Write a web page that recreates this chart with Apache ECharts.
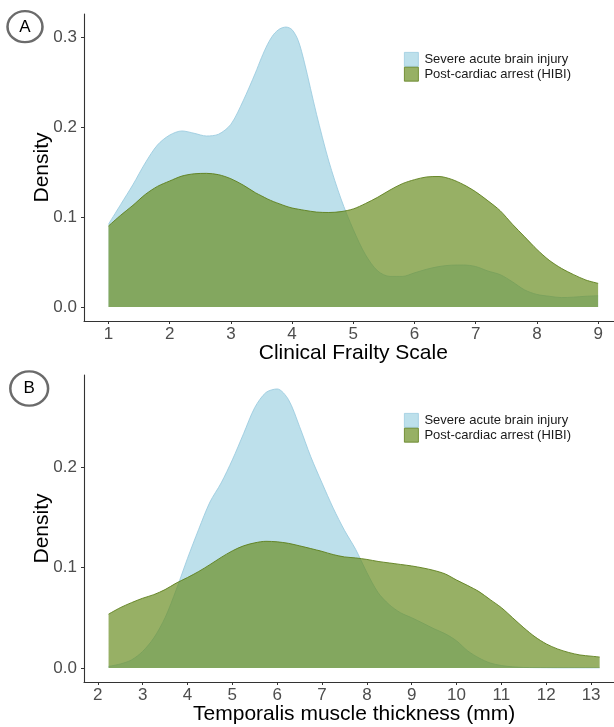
<!DOCTYPE html>
<html>
<head>
<meta charset="utf-8">
<script src="https://cdn.jsdelivr.net/npm/echarts@6/dist/echarts.min.js"></script>
<style>
html,body{margin:0;padding:0;background:#fff;}
#chart{width:614px;height:727px;}
</style>
</head>
<body>
<div id="chart"></div>
<script>
// ---------- Data ----------
var seriesNames = ['Severe acute brain injury', 'Post-cardiac arrest (HIBI)'];

// Panel A: Clinical Frailty Scale
var cfsX = [1.0,1.2,1.4,1.6,1.8,2.0,2.2,2.4,2.6,2.8,3.0,3.2,3.4,3.5,3.6,3.7,3.8,3.9,4.0,4.1,4.2,4.4,4.6,4.8,5.0,5.2,5.4,5.6,5.8,6.0,6.2,6.4,6.6,6.8,7.0,7.2,7.4,7.6,7.8,8.0,8.2,8.4,8.6,8.8,9.0];
var cfsSevere = [0.092,0.114,0.136,0.160,0.180,0.191,0.1956,0.193,0.190,0.192,0.203,0.229,0.260,0.277,0.292,0.303,0.309,0.311,0.308,0.296,0.272,0.214,0.162,0.120,0.086,0.058,0.040,0.034,0.034,0.038,0.042,0.045,0.0465,0.0467,0.045,0.040,0.036,0.028,0.019,0.014,0.012,0.0105,0.011,0.012,0.0126];
var cfsHibi = [0.090,0.102,0.113,0.125,0.134,0.140,0.1455,0.148,0.1485,0.147,0.1425,0.1355,0.127,0.1235,0.120,0.117,0.1145,0.112,0.110,0.1087,0.1075,0.1055,0.105,0.106,0.109,0.115,0.122,0.130,0.137,0.1415,0.1445,0.145,0.142,0.136,0.128,0.118,0.107,0.092,0.078,0.064,0.052,0.043,0.036,0.030,0.0263];
var cfsTicks = [1,2,3,4,5,6,7,8,9];
var densTicksA = [0, 0.1, 0.2, 0.3];

// Panel B: Temporalis muscle thickness (mm)
var tmtX = [2.24,2.5,2.75,3.0,3.25,3.5,3.75,4.0,4.25,4.5,4.75,5.0,5.25,5.5,5.75,6.0,6.25,6.5,6.75,7.0,7.25,7.5,7.75,8.0,8.25,8.5,8.75,9.0,9.25,9.5,9.75,10.0,10.25,10.5,10.75,11.0,11.25,11.5,11.75,12.0,12.25,12.5,12.75,13.0,13.19];
var tmtSevere = [0.0016,0.004,0.008,0.0165,0.030,0.050,0.078,0.109,0.138,0.165,0.184,0.207,0.233,0.259,0.274,0.2775,0.267,0.240,0.210,0.184,0.159,0.137,0.118,0.095,0.075,0.063,0.055,0.050,0.0446,0.039,0.034,0.027,0.017,0.010,0.005,0.0025,0.0012,0.0006,0.0004,0.0003,0.0002,0.0002,0.0002,0.0002,0.0002];
var tmtHibi = [0.0536,0.060,0.065,0.0694,0.073,0.078,0.0845,0.090,0.096,0.1028,0.110,0.1165,0.1215,0.1245,0.126,0.1255,0.124,0.1215,0.1188,0.116,0.1128,0.1105,0.1095,0.108,0.106,0.1045,0.103,0.1015,0.0995,0.097,0.0935,0.0875,0.082,0.076,0.068,0.060,0.050,0.040,0.031,0.024,0.019,0.0155,0.013,0.0118,0.011];
var tmtTicks = [2,3,4,5,6,7,8,9,10,11,12,13];
var densTicksB = [0, 0.1, 0.2];

// ---------- Build ----------
function pairs(xs, ys) { return xs.map(function (x, i) { return [x, ys[i]]; }); }

var blueFill = 'rgba(173,216,230,0.8)';
var blueLine = 'rgba(150,200,222,0.9)';
var greenFill = 'rgba(107,142,35,0.7)';
var greenLine = '#5E7F1C';
var axisColor = '#333333';
var tickLabelColor = '#4D4D4D';
var fam = '"Liberation Sans", Arial, Helvetica, sans-serif';

function xAxisDef(idx, min, max, ticks, name) {
  return {
    type: 'value', gridIndex: idx, min: min, max: max,
    name: name, nameLocation: 'middle', nameGap: 22, nameMoveOverlap: false,
    nameTextStyle: { fontSize: 21, color: '#000', fontFamily: fam },
    splitLine: { show: false },
    axisLine: { onZero: false, lineStyle: { color: axisColor, width: 1.1 } },
    axisTick: { customValues: ticks, length: 3, lineStyle: { color: axisColor } },
    axisLabel: { customValues: ticks, margin: 5, fontSize: 17, color: tickLabelColor, fontFamily: fam,
      formatter: function (v) { return String(v); } }
  };
}
function yAxisDef(idx, min, max, ticks) {
  return {
    type: 'value', gridIndex: idx, min: min, max: max,
    name: 'Density', nameLocation: 'middle', nameGap: 31, nameRotate: 90, nameMoveOverlap: false,
    nameTextStyle: { fontSize: 21, color: '#000', fontFamily: fam },
    splitLine: { show: false },
    axisLine: { show: true, onZero: false, lineStyle: { color: axisColor, width: 1.1 } },
    axisTick: { show: true, customValues: ticks, length: 3, lineStyle: { color: axisColor } },
    axisLabel: { customValues: ticks, margin: 7, fontSize: 17, color: tickLabelColor, fontFamily: fam,
      formatter: function (v) { return v.toFixed(1); } }
  };
}
function areaSeries(name, xi, data, fill, line, z) {
  return {
    type: 'line', name: name, xAxisIndex: xi, yAxisIndex: xi, data: data,
    showSymbol: false, symbol: 'none', smooth: 0.3, z: z,
    lineStyle: { color: line, width: 0.9 },
    itemStyle: { color: fill },
    areaStyle: { color: fill, opacity: 1 },
    emphasis: { disabled: true }, silent: true
  };
}
function legendDef(top) {
  return {
    orient: 'vertical', left: 404, top: top, itemWidth: 14, itemHeight: 14, itemGap: 0,
    padding: 0, selectedMode: false,
    textStyle: { fontSize: 13, color: '#1a1a1a', fontFamily: fam, padding: [0, 0, 0, 1] },
    data: [
      { name: seriesNames[0], icon: 'rect', itemStyle: { color: blueFill, borderColor: blueLine, borderWidth: 0.8 } },
      { name: seriesNames[1], icon: 'rect', itemStyle: { color: greenFill, borderColor: greenLine, borderWidth: 0.8 } }
    ]
  };
}

var option = {
  animation: false,
  backgroundColor: '#ffffff',
  grid: [
    { left: 84, top: 14, width: 538.6, height: 307, containLabel: false, outerBoundsMode: 'none' },
    { left: 84, top: 375, width: 540.2, height: 307, containLabel: false, outerBoundsMode: 'none' }
  ],
  xAxis: [
    xAxisDef(0, 0.6, 9.4, cfsTicks, 'Clinical Frailty Scale'),
    xAxisDef(1, 1.6925, 13.7375, tmtTicks, 'Temporalis muscle thickness (mm)')
  ],
  yAxis: [
    yAxisDef(0, -0.0155, 0.3255, densTicksA),
    yAxisDef(1, -0.013875, 0.291375, densTicksB)
  ],
  legend: [legendDef(52), legendDef(413)],
  series: [
    areaSeries(seriesNames[0], 0, pairs(cfsX, cfsSevere), blueFill, blueLine, 2),
    areaSeries(seriesNames[1], 0, pairs(cfsX, cfsHibi), greenFill, greenLine, 3),
    areaSeries(seriesNames[0], 1, pairs(tmtX, tmtSevere), blueFill, blueLine, 2),
    areaSeries(seriesNames[1], 1, pairs(tmtX, tmtHibi), greenFill, greenLine, 3)
  ],
  graphic: [
    { type: 'circle', shape: { cx: 25, cy: 26.7, r: 16.5 }, scaleX: 1.06, scaleY: 0.94, originX: 25, originY: 26.7,
      style: { fill: 'none', stroke: '#6b6b6b', lineWidth: 2.4 } },
    { type: 'text', x: 25, y: 27, style: { text: 'A', fill: '#000', font: '17px ' + fam, textAlign: 'center', textVerticalAlign: 'middle' } },
    { type: 'circle', shape: { cx: 29.2, cy: 388.5, r: 18 }, scaleX: 1.05, scaleY: 0.95, originX: 29.2, originY: 388.5,
      style: { fill: 'none', stroke: '#6b6b6b', lineWidth: 2.4 } },
    { type: 'text', x: 29.2, y: 388.5, style: { text: 'B', fill: '#000', font: '17px ' + fam, textAlign: 'center', textVerticalAlign: 'middle' } }
  ]
};

var chart = echarts.init(document.getElementById('chart'), null, { renderer: 'canvas' });
chart.setOption(option);
</script>
</body>
</html>
